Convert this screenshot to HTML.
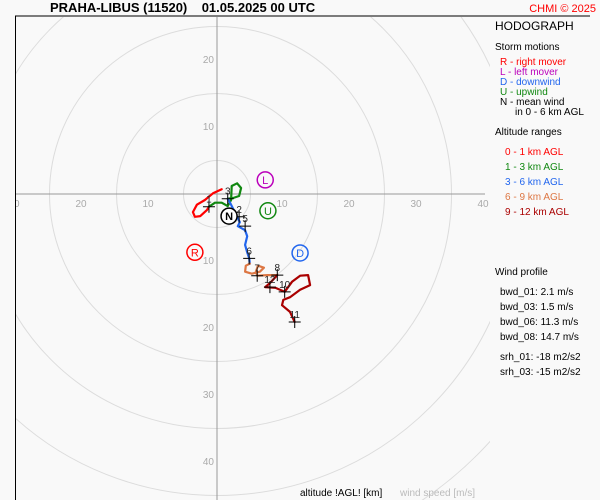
<!DOCTYPE html>
<html><head><meta charset="utf-8"><style>
html,body{margin:0;background:#f9f9f9;width:600px;height:500px;overflow:hidden;}
svg{display:block;font-family:"Liberation Sans",sans-serif;}
</style></head><body>
<svg id="c" width="600" height="500" xmlns="http://www.w3.org/2000/svg">
<rect width="600" height="500" fill="#f9f9f9"/>
<defs><clipPath id="pc"><rect x="16" y="17" width="474" height="483"/></clipPath></defs>
<g id="grid" clip-path="url(#pc)"></g>
<line x1="15" y1="16" x2="590" y2="16" stroke="#000"/>
<line x1="15.5" y1="16" x2="15.5" y2="500" stroke="#000"/>
<g id="plot" clip-path="url(#pc)"></g>
<text x="50" y="12" font-size="13" font-weight="bold" style="white-space:pre">PRAHA-LIBUS (11520)    01.05.2025 00 UTC</text>
<text x="596" y="12" font-size="11" fill="#f00" text-anchor="end">CHMI © 2025</text>
<g font-size="10">
<text x="495" y="30" font-size="12">HODOGRAPH</text>
<text x="495" y="50">Storm motions</text>
<text x="500" y="65" fill="#f00">R - right mover</text>
<text x="500" y="75" fill="#b0b">L - left mover</text>
<text x="500" y="85" fill="#26e">D - downwind</text>
<text x="500" y="95" fill="#181">U - upwind</text>
<text x="500" y="105">N - mean wind</text>
<text x="515" y="115">in 0 - 6 km AGL</text>
<text x="495" y="135">Altitude ranges</text>
<text x="505" y="155" fill="#f00">0 - 1 km AGL</text>
<text x="505" y="170" fill="#181">1 - 3 km AGL</text>
<text x="505" y="185" fill="#26e">3 - 6 km AGL</text>
<text x="505" y="200" fill="#d74">6 - 9 km AGL</text>
<text x="505" y="215" fill="#a00">9 - 12 km AGL</text>
<text x="495" y="275">Wind profile</text>
<text x="500" y="295">bwd_01: 2.1 m/s</text>
<text x="500" y="310">bwd_03: 1.5 m/s</text>
<text x="500" y="325">bwd_06: 11.3 m/s</text>
<text x="500" y="340">bwd_08: 14.7 m/s</text>
<text x="500" y="360">srh_01: -18 m2/s2</text>
<text x="500" y="375">srh_03: -15 m2/s2</text>
</g>
<text x="300" y="496" font-size="10">altitude !AGL! [km]</text>
<text x="400" y="496" font-size="10" fill="#bbb">wind speed [m/s]</text>
</svg>
<script>
const ringValues=[5,15,25,35,45,55,65];
const xTickLabels=[-30,-20,-10,10,20,30,40];
const yTickLabels=[20,10,-10,-20,-30,-40];
const seg0_1u=[0.7,-0.6,-1.8,-3.0,-3.6,-3.3,-2.5,-1.5,-1.2];
const seg0_1v=[0.7,0.1,-0.9,-1.6,-2.7,-3.4,-3.3,-2.4,-1.9];
const seg1_3u=[-1.2,-0.3,0.7,1.6,2.1,2.2,3.0,3.6,3.3,2.4,1.6];
const seg1_3v=[-1.9,-1.3,-1.3,-1.8,-0.9,1.2,1.6,0.9,-0.3,-0.6,-0.7];
const seg3_6u=[1.6,2.1,2.8,3.4,3.1,4.2,4.5,4.2,4.5,4.8,4.9];
const seg3_6v=[-0.7,-1.6,-3.0,-4.2,-4.8,-5.4,-6.3,-7.6,-8.7,-9.6,-10.4];
const seg6_9u=[4.9,4.3,4.2,5.2,6.4,7.0,6.1,5.8,6.0,7.5,9.0];
const seg6_9v=[-10.4,-10.7,-11.6,-11.9,-11.6,-11.0,-10.7,-11.6,-12.2,-12.1,-12.1];
const seg9_12u=[9.0,7.9,7.2,8.7,10.1,11.2,12.4,13.6,13.9,12.4,10.9,9.9,9.7,10.9,11.6];
const seg9_12v=[-12.1,-13.3,-13.9,-14.0,-14.6,-13.1,-12.2,-12.1,-13.6,-14.3,-15.4,-15.8,-16.6,-17.6,-19.1];
const levelLabels=["1","2","3","5","6","7","8","10","11","12"];
const levelU=[-1.2,3.3,1.6,4.2,4.8,6.0,9.0,10.1,11.6,7.9];
const levelV=[-1.9,-3.4,-0.7,-4.8,-9.6,-12.2,-12.1,-14.6,-19.1,-13.9];
const stormLabels=["R","L","U","D","N"];
const stormU=[-3.3,7.2,7.6,12.4,1.8];
const stormV=[-8.7,2.1,-2.5,-8.8,-3.3];
const stormColors=["#f00","#b0b","#181","#26e","#000"];
const segColors=["#f00","#181","#26e","#d74","#a00"];

const NS="http://www.w3.org/2000/svg";
const X0=217,Y0=194,S=6.7;
const sx=u=>X0+u*S, sy=v=>Y0-v*S;
function mk(t,a,p){const e=document.createElementNS(NS,t);for(const k in a)e.setAttribute(k,a[k]);p.appendChild(e);return e;}
const grid=document.getElementById('grid'),plot=document.getElementById('plot');
ringValues.forEach(r=>{const c=mk('circle',{cx:X0,cy:Y0,r:r*S,fill:'none',stroke:'#dcdcdc'},grid);

});
let a=mk('line',{x1:16,y1:Y0,x2:485,y2:Y0,stroke:'#999'},grid);


a=mk('line',{x1:X0,y1:17,x2:X0,y2:500,stroke:'#999'},grid);


xTickLabels.forEach(v=>{const t=mk('text',{x:sx(v)-2,y:Y0+13,'font-size':10,fill:'#aaa','text-anchor':'middle'},grid);t.textContent=Math.abs(v);

});
yTickLabels.forEach(v=>{const t=mk('text',{x:X0-3,y:sy(v)+3,'font-size':10,fill:'#aaa','text-anchor':'end'},grid);t.textContent=Math.abs(v);

});
const segs=[[seg0_1u,seg0_1v],[seg1_3u,seg1_3v],[seg3_6u,seg3_6v],[seg6_9u,seg6_9v],[seg9_12u,seg9_12v]];
const segNames=['trace-0-1km','trace-1-3km','trace-3-6km','trace-6-9km','trace-9-12km'];
segs.forEach((s,i)=>{const d=s[0].map((u,j)=>(j?'L':'M')+sx(u).toFixed(1)+' '+sy(s[1][j]).toFixed(1)).join(' ');
const p=mk('path',{d:d,fill:'none',stroke:segColors[i],'stroke-width':2.2,'stroke-linejoin':'round','stroke-linecap':'round'},plot);

});
levelLabels.forEach((l,i)=>{const x=sx(levelU[i]),y=sy(levelV[i]);
const g=mk('g',{},plot);


mk('path',{d:`M${x-6} ${y}H${x+6}M${x} ${y-6}V${y+6}`,stroke:'#000','stroke-width':1},g);
const t=mk('text',{x:x,y:y-4,'font-size':10,'text-anchor':'middle',fill:'#222'},g);t.textContent=l;});
stormLabels.forEach((l,i)=>{const x=sx(stormU[i]),y=sy(stormV[i]);
const g=mk('g',{},plot);


mk('circle',{cx:x,cy:y,r:8,fill:l==='N'?'#fff':'none',stroke:stormColors[i],'stroke-width':1.5},g);
const t=mk('text',{x:x,y:y+4,'font-size':11,'font-weight':l==='N'?'bold':'normal','text-anchor':'middle',fill:stormColors[i]},g);t.textContent=l;});
</script>
</body></html>
